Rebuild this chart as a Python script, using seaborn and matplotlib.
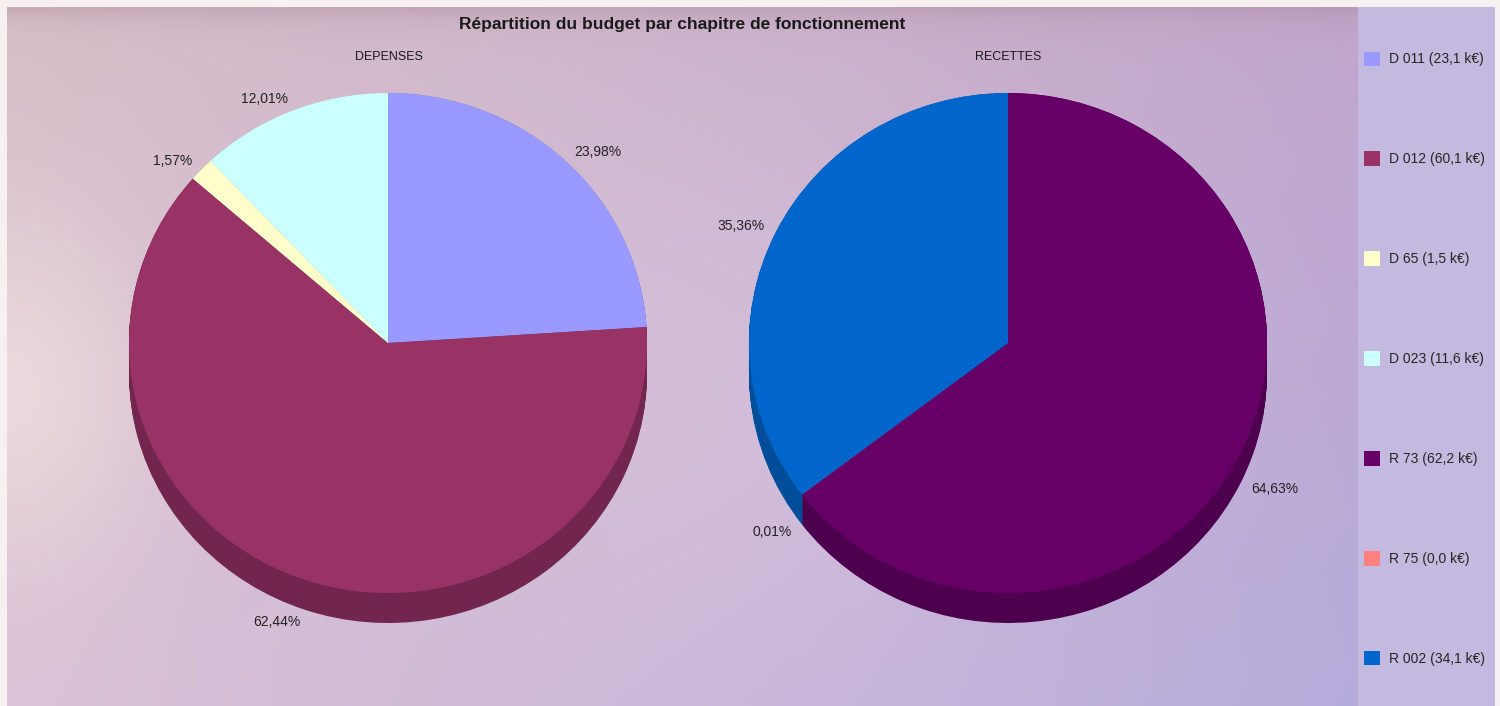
import numpy as np
import matplotlib
matplotlib.use('Agg')
import matplotlib.pyplot as plt
import matplotlib.colors as mcolors
from matplotlib.patches import Patch, Rectangle
import seaborn as sns

sns.set_theme(style='white')
plt.rcParams['font.family'] = ['Liberation Sans', 'DejaVu Sans']

# Data
title = 'Répartition du budget par chapitre de fonctionnement'
dep_title = 'DEPENSES'
rec_title = 'RECETTES'

dep_labels = ['D 011', 'D 012', 'D 65', 'D 023']
dep_amounts = [23.1, 60.1, 1.5, 11.6]
dep_pcts = [23.98, 62.44, 1.57, 12.01]
dep_colors = ['#9999ff', '#993366', '#ffffcc', '#ccffff']

rec_labels = ['R 73', 'R 75', 'R 002']
rec_amounts = [62.2, 0.0, 34.1]
rec_pcts = [64.63, 0.01, 35.36]
rec_colors = ['#660066', '#ff8080', '#0066cc']

W, H = 1500, 706
fig = plt.figure(figsize=(W / 100, H / 100), dpi=100)
fig.patch.set_facecolor('#f7f0f1')


def px_rect(x0, y0, x1, y1):
    # pixel box (top-left origin) -> figure fraction rect
    return [x0 / W, 1 - y1 / H, (x1 - x0) / W, (y1 - y0) / H]


# Background gradient of the plot area
bg = fig.add_axes(px_rect(7, 7, 1358, 706))
bg.axis('off')
tl = np.array(mcolors.to_rgb('#d8c0c8'))
bl = np.array(mcolors.to_rgb('#dcc2d6'))
tr = np.array(mcolors.to_rgb('#c2a6cc'))
br = np.array(mcolors.to_rgb('#b6acdc'))
u = np.linspace(0, 1, 300)[None, :, None]
v = np.linspace(0, 1, 150)[:, None, None]
grad = (1 - u) * (1 - v) * tl + u * (1 - v) * tr + (1 - u) * v * bl + u * v * br
mid = np.array(mcolors.to_rgb('#dcc6e0'))
bump = np.exp(-((u - 0.5) ** 2 / 0.08 + (v - 0.55) ** 2 / 0.15))
grad = grad * (1 - 0.5 * bump) + mid * 0.5 * bump
light = np.array(mcolors.to_rgb('#eedede'))
lbump = np.exp(-((u - 0.0) ** 2 / 0.01 + (v - 0.55) ** 2 / 0.06))
grad = grad * (1 - 0.8 * lbump) + light * 0.8 * lbump
top = np.exp(-v / 0.02)
grad = grad * (1 - 0.35 * top) + np.array(mcolors.to_rgb('#a88898')) * 0.35 * top
bg.imshow(grad, aspect='auto', extent=(0, 1, 0, 1), interpolation='bilinear')
bg.set_xlim(0, 1)
bg.set_ylim(0, 1)

# Legend panel
fig.patches.append(Rectangle((1358 / W, 0), 137 / W, 1 - 7 / H, transform=fig.transFigure,
                             facecolor='#c4b9de', edgecolor='none', zorder=0.5))

depth = 0.12
rx, ry = 259, 250


def draw_pie(cx, cy, pcts, colors):
    ax = fig.add_axes(px_rect(cx - 1.4 * rx, cy - 1.35 * ry, cx + 1.4 * rx, cy + 1.45 * ry))
    ax.patch.set_alpha(0)
    dark = [tuple(np.array(mcolors.to_rgb(c)) * 0.75) for c in colors]
    for d in np.linspace(depth, 0.0, 31):
        ax.pie(pcts, colors=dark, startangle=90, counterclock=False,
               center=(0, -d), wedgeprops=dict(linewidth=0))
    labels = [f'{p:.2f}%'.replace('.', ',') for p in pcts]
    wedges, texts = ax.pie(pcts, colors=colors, startangle=90, counterclock=False,
                           labels=labels, labeldistance=1.05,
                           wedgeprops=dict(linewidth=0),
                           textprops=dict(fontsize=10, color='#222222'))
    for t in texts:
        x, y = t.get_position()
        if y < 0:
            t.set_y(y - depth)
    ax.set_aspect('auto')
    ax.set_xlim(-1.4, 1.4)
    ax.set_ylim(-1.45, 1.35)
    ax.axis('off')
    return ax


draw_pie(388, 343, dep_pcts, dep_colors)
draw_pie(1008, 343, rec_pcts, rec_colors)

fig.text(682 / W, 1 - 24 / H, title, ha='center', va='center',
         fontsize=12.5, fontweight='bold', color='#1a1a1a')
fig.text(389 / W, 1 - 57 / H, dep_title, ha='center', va='center', fontsize=9, color='#1a1a1a')
fig.text(1008 / W, 1 - 57 / H, rec_title, ha='center', va='center', fontsize=9, color='#1a1a1a')

# Legend
handles = []
for lab, amt, col in zip(dep_labels + rec_labels, dep_amounts + rec_amounts, dep_colors + rec_colors):
    txt = f'{lab} ({amt:.1f} k€)'.replace('.', ',')
    handles.append(Patch(facecolor=col, edgecolor='none', label=txt))
fig.legend(handles=handles, loc='upper left', bbox_to_anchor=(1358 / W, 1 - 46 / H),
           frameon=False, fontsize=10, handlelength=1.2, handleheight=1.2,
           handletextpad=0.6, labelspacing=6.13, borderaxespad=0)

fig.savefig('out.png', dpi=100)
